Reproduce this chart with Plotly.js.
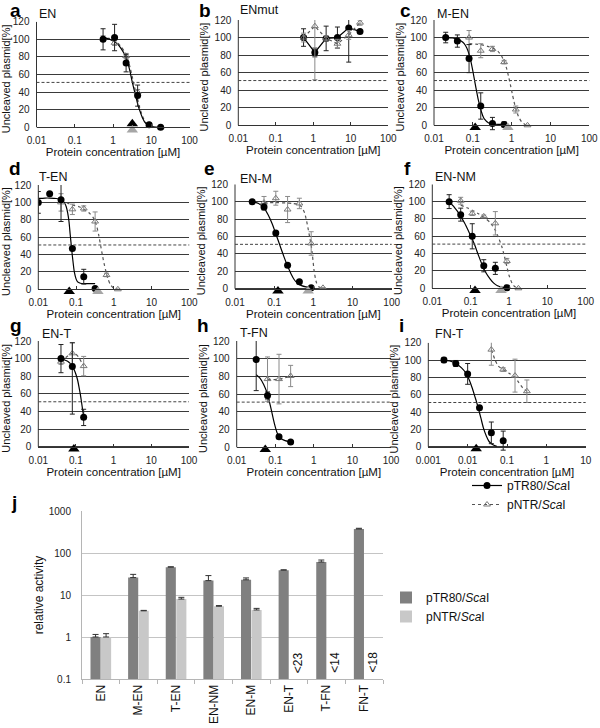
<!DOCTYPE html>
<html><head><meta charset="utf-8">
<script src="https://cdn.plot.ly/plotly-3.0.1.min.js"></script>
<style>html,body{margin:0;padding:0;background:#fff}#chart{width:600px;height:728px}</style>
</head><body><div id="chart"></div>
<script>
// ================= DATA =================
const xTicksDec = [0.01, 0.1, 1, 10, 100];
const xTickTextDec = ['0.01', '0.1', '1', '10', '100'];
const xTicksI = [0.001, 0.01, 0.1, 1, 10];
const xTickTextI = ['0.001', '0.01', '0.1', '1', '10'];
const yTicksPct = [0, 20, 40, 60, 80, 100, 120];

// a  EN
const aX = [0.55, 1.1, 2.2, 4.4, 8.8, 17.6];
const aTR = [100, 102, 73, 36, 3, 0];
const aTRerr = [12, 15, 10, 12, 2, 0];
const aNTR = [101, 96, 81, 40, 3, 0];
const aNTRerr = [3, 3, 3, 3, 1, 0];
const aCurveX = [0.5, 0.8, 1, 1.3, 1.6, 2, 2.4, 2.8, 3.2, 3.6, 4, 4.5, 5, 6, 7, 8, 10, 14, 18];
const aTRcurve = [103, 100, 98, 95, 90, 83, 74, 63, 51, 42, 34, 25, 19, 10, 5, 3, 1, 0, 0];
const aNTRcurve = [103, 101, 99, 96, 92, 86, 78, 68, 57, 47, 39, 30, 22, 12, 6, 3, 1, 0, 0];
const aEC50 = [3.2, 3.2];

// b  ENmut
const bX = [0.55, 1.1, 2.2, 4.4, 8.8, 17.6];
const bTR = [100, 83, 99, 100, 111, 107];
const bTRerr = [10, 5, 14, 12, 39, 0];
const bNTR = [100, 113, 99, 93, 103, 117];
const bNTRerr = [5, 61, 3, 5, 5, 3];

// c  M-EN
const cTRx = [0.02, 0.04, 0.08, 0.16, 0.32, 0.64];
const cTR = [100, 96, 76, 22, 2, 1];
const cTRerr = [6, 7, 16, 15, 7, 3];
const cNTRx = [0.08, 0.16, 0.32, 0.64, 1.28, 2.56];
const cNTR = [100, 85, 87, 72, 18, 0];
const cNTRerr = [8, 8, 3, 2, 4, 0];
const cTRcurveX = [0.02, 0.03, 0.04, 0.05, 0.06, 0.07, 0.08, 0.09, 0.1, 0.11, 0.12, 0.13, 0.14, 0.16, 0.18, 0.2, 0.25, 0.32, 0.45, 0.64];
const cTRcurve = [100, 99.5, 98, 96, 93, 88, 81, 72, 62, 52, 43, 35, 28, 18, 11, 7, 3, 1.5, 1, 1];
const cNTRcurveX = [0.08, 0.12, 0.16, 0.24, 0.32, 0.45, 0.55, 0.64, 0.75, 0.85, 0.95, 1.05, 1.15, 1.28, 1.5, 1.8, 2.2, 2.56];
const cNTRcurve = [93, 92.5, 92, 90, 88, 84, 79, 73, 64, 54, 44, 35, 27, 19, 10, 4, 1, 0];
const cEC50 = [0.115, 0.8];

// d  T-EN
const dTRx = [0.01, 0.02, 0.04, 0.08, 0.16, 0.32];
const dTR = [100, 110, 103, 47, 14.5, 1];
const dTRerr = [12.5, 0, 25, 2, 8.5, 0];
const dNTRx = [0.04, 0.08, 0.16, 0.32, 0.64, 1.28];
const dNTR = [100, 92, 93, 78, 16.5, 0];
const dNTRerr = [10, 6, 3, 11, 2, 0];
const dTRcurveX = [0.01, 0.015, 0.02, 0.03, 0.04, 0.05, 0.055, 0.06, 0.065, 0.07, 0.075, 0.08, 0.085, 0.09, 0.1, 0.11, 0.13, 0.16, 0.2, 0.25, 0.32];
const dTRcurve = [104.5, 105, 105, 104.5, 103, 99, 95, 88, 78, 63, 50, 38, 28, 20, 12, 8.5, 7, 6.5, 6.5, 6.5, 6.5];
const dNTRcurveX = [0.04, 0.06, 0.08, 0.12, 0.16, 0.22, 0.28, 0.32, 0.36, 0.4, 0.45, 0.5, 0.55, 0.6, 0.7, 0.8, 1.0, 1.28];
const dNTRcurve = [102, 99, 97, 95, 92, 88, 83, 78, 71, 62, 50, 39, 30, 23, 12, 6, 1, 0];
const dEC50 = [0.066, 0.38];

// e  EN-M
const eTRx = [0.0275, 0.055, 0.11, 0.22, 0.44, 0.88];
const eTR = [100, 94, 64, 27, 8, 1];
const eTRerr = [1, 3.5, 1, 1, 1, 1];
const eNTRx = [0.055, 0.11, 0.22, 0.44, 0.88, 1.76];
const eNTR = [99, 104, 91, 98, 52, 1];
const eNTRerr = [7, 8, 15, 6, 13.5, 0];
const eTRcurveX = [0.0275, 0.04, 0.055, 0.07, 0.09, 0.11, 0.13, 0.15, 0.18, 0.22, 0.27, 0.33, 0.4, 0.5, 0.65, 0.88];
const eTRcurve = [100, 98, 93, 85, 74, 63, 54, 46, 36, 26, 17, 10, 6, 3.5, 2, 1];
const eNTRcurveX = [0.055, 0.1, 0.2, 0.3, 0.4, 0.5, 0.6, 0.7, 0.8, 0.88, 0.95, 1.05, 1.2, 1.4, 1.76];
const eNTRcurve = [99, 99, 98.5, 98, 97, 94, 87, 74, 60, 50, 38, 20, 7, 2, 1];
const eEC50 = [0.125, 0.74];

// f  EN-NM
const fTRx = [0.0275, 0.055, 0.11, 0.22, 0.44, 0.88];
const fTR = [100, 85, 60, 26, 23, 0.5];
const fTRerr = [8, 7.5, 14.5, 7, 7, 3];
const fNTRx = [0.055, 0.11, 0.22, 0.44, 0.88, 1.76];
const fNTR = [101, 86.5, 83, 75, 31.5, 0];
const fNTRerr = [4, 2.5, 1.5, 13.5, 3, 0];
const fTRcurveX = [0.0275, 0.035, 0.045, 0.055, 0.07, 0.09, 0.11, 0.13, 0.16, 0.2, 0.25, 0.32, 0.4, 0.5, 0.7, 0.88];
const fTRcurve = [101, 95, 89, 83, 75, 65, 57, 49, 38, 27, 18, 11, 6, 3, 1, 0];
const fNTRcurveX = [0.055, 0.08, 0.11, 0.16, 0.22, 0.32, 0.44, 0.55, 0.65, 0.75, 0.88, 1.0, 1.2, 1.4, 1.76];
const fNTRcurve = [96, 93, 90, 86, 82, 76, 67, 57, 48, 38, 25, 15, 6, 2, 0];
const fEC50 = [0.13, 0.62];

// g  EN-T
const gTRx = [0.04, 0.08, 0.16];
const gTR = [100, 91, 33.5];
const gTRerrPlus = [16, 27, 9];
const gTRerrMinus = [16, 54, 9.5];
const gNTRx = [0.04, 0.08, 0.16];
const gNTR = [96.5, 106, 91.5];
const gNTRerr = [3, 12, 11];
const gTRcurveX = [0.04, 0.05, 0.06, 0.07, 0.08, 0.09, 0.1, 0.11, 0.12, 0.13, 0.14, 0.15, 0.16];
const gTRcurve = [100, 98.5, 97, 94.5, 91, 87, 82, 76, 68, 60, 51, 42, 34];
const gNTRcurveX = [0.04, 0.05, 0.06, 0.07, 0.08, 0.09, 0.1, 0.12, 0.14, 0.16];
const gNTRcurve = [97, 100, 103, 105, 106, 106, 105, 101, 96, 92];
const gEC50 = [0.088];

// h  T-FN
const hTRx = [0.032, 0.063, 0.125, 0.25];
const hTR = [99, 58.5, 12, 6];
const hTRerr = [35, 4, 2, 1];
const hNTRx = [0.063, 0.125, 0.25];
const hNTR = [77, 77, 80.5];
const hNTRerr = [25, 28, 12];
const hTRcurveX = [0.032, 0.04, 0.05, 0.063, 0.07, 0.08, 0.09, 0.1, 0.11, 0.125, 0.15, 0.18, 0.22, 0.25];
const hTRcurve = [82, 78, 71, 60, 52, 41, 31, 23, 17, 12, 9, 7.5, 6.5, 6];
const hNTRcurveX = [0.063, 0.09, 0.125, 0.18, 0.25];
const hNTRcurve = [77, 76.5, 77, 78.5, 80.5];
const hEC50 = [0.055];

// i  FN-T
const iTRx = [0.0025, 0.005, 0.01, 0.02, 0.04, 0.08];
const iTR = [100, 96, 84, 45, 16, 7];
const iTRerr = [3, 3.5, 12, 0, 12.5, 11];
const iNTRx = [0.04, 0.08, 0.16, 0.32];
const iNTR = [112, 89, 82, 64];
const iNTRerr = [18, 2, 19, 13];
const iTRcurveX = [0.0025, 0.0035, 0.005, 0.007, 0.009, 0.011, 0.013, 0.015, 0.017, 0.019, 0.022, 0.025, 0.03, 0.035, 0.045, 0.055];
const iTRcurve = [100, 99, 96, 91, 85, 77, 68, 59, 51, 43, 32, 22, 12, 6, 2, 0.5];
const iNTRcurveX = [0.04, 0.05, 0.06, 0.08, 0.11, 0.16, 0.2, 0.25, 0.32];
const iNTRcurve = [112, 100, 93, 89, 85, 80, 74, 68, 64];
const iEC50 = [0.0165];

// j  relative activity
const jCategories = ['EN', 'M-EN', 'T-EN', 'EN-NM', 'EN-M', 'EN-T', 'T-FN', 'FN-T'];
const jTR80 = [1.0, 26, 46, 22, 23, 39, 61, 373];
const jTR80err = [0.15, 5, 1, 7, 2.5, 0.8, 7, 15];
const jNTR = [1.0, 4.2, 8.0, 5.4, 4.4, null, null, null];
const jNTRerr = [0.2, 0.1, 0.8, 0.2, 0.4, 0, 0, 0];
const jLimitCats = ['EN-T', 'T-FN', 'FN-T'];
const jLimitText = ['<23', '<14', '<18'];
const jYTicks = [0.1, 1, 10, 100, 1000];
const jYTickText = ['0.1', '1', '10', '100', '1000'];

const nameTR = 'pTR80/<i>Sca</i>I';
const nameNTR = 'pNTR/<i>Sca</i>I';

// ================= LAYOUT CONFIG =================
const FONT = 'Liberation Sans, Arial, Helvetica, sans-serif';
const W = 600, H = 728;
const px = v => v / W;
const py = v => 1 - v / H;
const Y_LOW = -10;   // room below 0 for the EC50 triangles

const panels = [
  {L:'a', T:'EN', box:[36.5,189.5,21.7,127.3], lp:[8,10], tp:[37,14], range:[-2,2], tv:xTicksDec, tt:xTickTextDec,
   trX:aX, trY:aTR, trE:aTRerr, ntrX:aX, ntrY:aNTR, ntrE:aNTRerr,
   trCX:aCurveX, trCY:aTRcurve, ntrCX:aCurveX, ntrCY:aNTRcurve, ec:aEC50, ecY:[4,-3]},
  {L:'b', T:'ENmut', box:[238.3,388.3,20,125.3], lp:[197,10], tp:[238,10], range:[-2,2], tv:xTicksDec, tt:xTickTextDec,
   trX:bX, trY:bTR, trE:bTRerr, ntrX:bX, ntrY:bNTR, ntrE:bNTRerr, connect:true, legend:true},
  {L:'c', T:'M-EN', box:[434,589.3,20,125.3], lp:[398,10], tp:[435,14], range:[-2,2], tv:xTicksDec, tt:xTickTextDec,
   trX:cTRx, trY:cTR, trE:cTRerr, ntrX:cNTRx, ntrY:cNTR, ntrE:cNTRerr,
   trCX:cTRcurveX, trCY:cTRcurve, ntrCX:cNTRcurveX, ntrCY:cNTRcurve, ec:cEC50},
  {L:'d', T:'T-EN', box:[38.3,189.3,185,289.3], lp:[7,168], tp:[37,177], range:[-2,2], tv:xTicksDec, tt:xTickTextDec,
   trX:dTRx, trY:dTR, trE:dTRerr, ntrX:dNTRx, ntrY:dNTR, ntrE:dNTRerr,
   trCX:dTRcurveX, trCY:dTRcurve, ntrCX:dNTRcurveX, ntrCY:dNTRcurve, ec:dEC50},
  {L:'e', T:'EN-M', box:[235,391.7,184.3,288.7], lp:[202,168], tp:[238,179], range:[-2,2], tv:xTicksDec, tt:xTickTextDec,
   trX:eTRx, trY:eTR, trE:eTRerr, ntrX:eNTRx, ntrY:eNTR, ntrE:eNTRerr,
   trCX:eTRcurveX, trCY:eTRcurve, ntrCX:eNTRcurveX, ntrCY:eNTRcurve, ec:eEC50},
  {L:'f', T:'EN-NM', box:[432.3,585.7,184.3,288.3], lp:[402,168], tp:[433,177], range:[-2,2], tv:xTicksDec, tt:xTickTextDec,
   trX:fTRx, trY:fTR, trE:fTRerr, ntrX:fNTRx, ntrY:fNTR, ntrE:fNTRerr,
   trCX:fTRcurveX, trCY:fTRcurve, ntrCX:fNTRcurveX, ntrCY:fNTRcurve, ec:fEC50},
  {L:'g', T:'EN-T', box:[38.3,189,341,446.7], lp:[8,325], tp:[40,334], range:[-2,2], tv:xTicksDec, tt:xTickTextDec, desc:true,
   trX:gTRx, trY:gTR, trE:gTRerrPlus, trEm:gTRerrMinus, ntrX:gNTRx, ntrY:gNTR, ntrE:gNTRerr,
   trCX:gTRcurveX, trCY:gTRcurve, ntrCX:gNTRcurveX, ntrCY:gNTRcurve, ec:gEC50},
  {L:'h', T:'T-FN', box:[236.7,391,341,447.3], lp:[195,325], tp:[238,333], range:[-2,2], tv:xTicksDec, tt:xTickTextDec,
   trX:hTRx, trY:hTR, trE:hTRerr, ntrX:hNTRx, ntrY:hNTR, ntrE:hNTRerr,
   trCX:hTRcurveX, trCY:hTRcurve, ntrCX:hNTRcurveX, ntrCY:hNTRcurve, ec:hEC50},
  {L:'i', T:'FN-T', box:[428.3,585.7,342.7,446.7], lp:[397,325], tp:[433,334], range:[-3,1], tv:xTicksI, tt:xTickTextI,
   trX:iTRx, trY:iTR, trE:iTRerr, ntrX:iNTRx, ntrY:iNTR, ntrE:iNTRerr,
   trCX:iTRcurveX, trCY:iTRcurve, ntrCX:iNTRcurveX, ntrCY:iNTRcurve, ec:iEC50}
];

const traces = [];
const layout = {
  width: W, height: H,
  margin: {l:0, r:0, t:0, b:0, pad:0},
  paper_bgcolor: '#ffffff', plot_bgcolor: 'rgba(0,0,0,0)',
  font: {family: FONT, size: 10, color: '#111'},
  showlegend: true,
  legend: {x: px(467), y: py(471), xanchor:'left', yanchor:'top', bgcolor:'rgba(0,0,0,0)',
           font:{size:12, family:FONT, color:'#111'}, itemwidth:30, tracegroupgap:0},
  legend2: {x: px(386), y: py(583), xanchor:'left', yanchor:'top', bgcolor:'rgba(0,0,0,0)',
           font:{size:12, family:FONT, color:'#111'}, itemwidth:30, tracegroupgap:0},
  barmode: 'group', bargap: 0.44, bargroupgap: 0.04,
  shapes: [], annotations: []
};

const GRAY = '#7a7a7a';
panels.forEach((p, idx) => {
  const k = idx + 1;
  const sfx = k === 1 ? '' : String(k);
  const xa = 'x' + sfx, ya = 'y' + sfx;
  const [l, r, t, b] = p.box;
  const bExt = b + (-Y_LOW) * (b - t) / 120;   // plot area extends a little below the 0 line
  layout['xaxis' + sfx] = {
    domain: [px(l), px(r)], anchor: 'free', position: py(b), type: 'log', range: p.range,
    tickvals: p.tv, ticktext: p.tt, ticks: 'inside', ticklen: 3, tickcolor: '#333',
    showline: true, linecolor: '#333', linewidth: 1, showgrid: false, zeroline: false,
    tickfont: {size: 10, family: FONT, color: '#222'}, ticklabelstandoff: 4,
    title: {text: 'Protein concentration [µM]', font: {size: 11.5, family: FONT, color: '#111'}, standoff: 1},
    fixedrange: true
  };
  layout['yaxis' + sfx] = {
    domain: [py(bExt), py(t)], anchor: xa, range: [Y_LOW, 120],
    tickvals: yTicksPct, showgrid: true, gridcolor: '#3a3a3a', gridwidth: 1,
    showline: false, zeroline: false, ticks: '',
    tickfont: {size: 10, family: FONT, color: '#222'}, ticklabelstandoff: 6,
    title: {text: 'Uncleaved plasmid[%]', font: {size: 11, family: FONT, color: '#111'}, standoff: 3},
    fixedrange: true
  };
  // left axis line from 0 to 120
  layout.shapes.push({type:'line', xref: xa + ' domain', yref: ya, x0: 0, x1: 0, y0: 0, y1: 120,
                      line: {color: '#333', width: 1}});
  // 50 % reference line
  layout.shapes.push({type:'line', xref: xa + ' domain', yref: ya, x0: 0, x1: 1, y0: 51, y1: 51,
                      line: {color: '#444', width: 1, dash: '3px,2px'}});
  const letter = {xref:'paper', yref:'paper', x: px(p.lp[0]), y: py(p.lp[1]), xanchor:'left', yanchor:'middle',
                  text: '<b>' + p.L + '</b>', showarrow:false, font:{size:19, family:FONT, color:'#000'}};
  if (!p.desc) letter.height = 20;
  layout.annotations.push(letter);
  layout.annotations.push({xref:'paper', yref:'paper', x: px(p.tp[0]), y: py(p.tp[1]), xanchor:'left', yanchor:'middle',
                           text: p.T, showarrow:false, font:{size:12.5, family:FONT, color:'#111'}});

  // fitted curves
  if (p.ntrCX) traces.push({type:'scatter', mode:'lines', x:p.ntrCX, y:p.ntrCY, xaxis:xa, yaxis:ya,
    line:{color:'#555', width:1.2, dash:'dot', shape:'spline', smoothing:0.6}, showlegend:false, hoverinfo:'skip'});
  if (p.trCX) traces.push({type:'scatter', mode:'lines', x:p.trCX, y:p.trCY, xaxis:xa, yaxis:ya,
    line:{color:'#000', width:1.2, shape:'spline', smoothing:0.6}, showlegend:false, hoverinfo:'skip'});

  // data points
  const trErr = p.trEm ? {type:'data', symmetric:false, array:p.trE, arrayminus:p.trEm, color:'#222', thickness:1, width:2.5}
                       : {type:'data', array:p.trE, color:'#222', thickness:1, width:2.5};
  const ntrTrace = {type:'scatter', mode: p.connect ? 'lines+markers' : 'markers', x:p.ntrX, y:p.ntrY, xaxis:xa, yaxis:ya,
    name: nameNTR, legend:'legend',
    marker:{symbol:'triangle-up-open', size:6, color:GRAY, line:{width:1, color:GRAY}},
    line:{color:'#555', width:1.2, dash:'dot'},
    error_y:{type:'data', array:p.ntrE, color:'#8a8a8a', thickness:1, width:2.5},
    showlegend: !!p.legend};
  const trTrace = {type:'scatter', mode: p.connect ? 'lines+markers' : 'markers', x:p.trX, y:p.trY, xaxis:xa, yaxis:ya,
    name: nameTR, legend:'legend',
    marker:{symbol:'circle', size:7, color:'#000'},
    line:{color:'#000', width:1.2},
    error_y: trErr, showlegend: !!p.legend};
  if (p.legend) { traces.push(trTrace); traces.push(ntrTrace); }
  else { traces.push(ntrTrace); traces.push(trTrace); }

  // EC50 markers on the x axis
  if (p.ec) {
    const ey = p.ecY || [-2.5, -2.5];
    traces.push({type:'scatter', mode:'markers', x:[p.ec[0]], y:[ey[0]], xaxis:xa, yaxis:ya, cliponaxis:false,
      marker:{symbol:'triangle-up', size:10, color:'#000'}, showlegend:false, hoverinfo:'skip'});
    if (p.ec.length > 1) traces.push({type:'scatter', mode:'markers', x:[p.ec[1]], y:[ey[1]], xaxis:xa, yaxis:ya, cliponaxis:false,
      marker:{symbol:'triangle-up', size:10, color:'#a6a6a6'}, showlegend:false, hoverinfo:'skip'});
  }
});

// ---- panel j (bar chart) ----
traces.push({type:'bar', x:jCategories, y:jTR80, xaxis:'x10', yaxis:'y10', name:nameTR, legend:'legend2',
  marker:{color:'#808080'}, error_y:{type:'data', symmetric:false, array:jTR80err, arrayminus:jTR80err.map(()=>0), color:'#333', thickness:1, width:3}});
traces.push({type:'bar', x:jCategories, y:jNTR, xaxis:'x10', yaxis:'y10', name:nameNTR, legend:'legend2',
  marker:{color:'#c8c8c8'}, error_y:{type:'data', symmetric:false, array:jNTRerr, arrayminus:jNTRerr.map(()=>0), color:'#333', thickness:1, width:3}});

layout.xaxis10 = {domain:[px(82), px(383)], anchor:'y10', type:'category', categoryorder:'array', categoryarray:jCategories,
  tickangle:-90, tickfont:{size:12, family:FONT, color:'#111'}, showline:true, linecolor:'#b5b5b5', linewidth:1,
  ticks:'outside', tickson:'boundaries', ticklen:4, tickcolor:'#b5b5b5', showgrid:false, zeroline:false, fixedrange:true};
layout.yaxis10 = {domain:[py(679), py(511)], anchor:'x10', type:'log', range:[-1, 3],
  tickvals:jYTicks, ticktext:jYTickText, showgrid:true, gridcolor:'#c4c4c4', gridwidth:1,
  showline:true, linecolor:'#b5b5b5', zeroline:false, ticks:'', ticklabelstandoff:8,
  tickfont:{size:10, family:FONT, color:'#222'},
  title:{text:'relative activity', font:{size:12, family:FONT, color:'#111'}, standoff:2}, fixedrange:true};
layout.annotations.push({xref:'paper', yref:'paper', x:px(9), y:py(502), xanchor:'left', yanchor:'middle',
  text:'<b>j</b>', showarrow:false, font:{size:19, family:FONT, color:'#000'}});
jLimitCats.forEach((c, i) => {
  layout.annotations.push({xref:'x10', yref:'y10', x:c, y:-0.6, xshift:9, textangle:-90,
    text: jLimitText[i], showarrow:false, font:{size:12, family:FONT, color:'#111'}});
});

Plotly.newPlot('chart', traces, layout, {staticPlot:true, displayModeBar:false});
</script>
</body></html>
